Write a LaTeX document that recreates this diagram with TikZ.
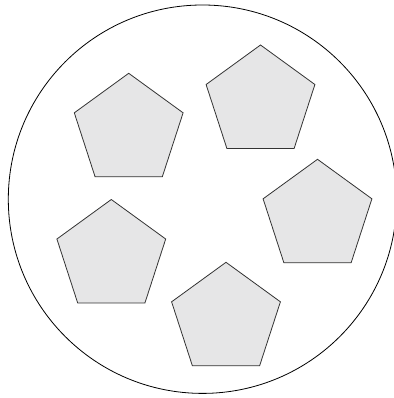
\documentclass[tikz,border=0pt]{standalone}
\usepackage{xcolor}
\usepackage{tikz}
\usetikzlibrary{shapes.geometric}
\definecolor{patchgray}{HTML}{E6E6E7}
\definecolor{edgegray}{HTML}{333333}
\tikzset{
  ball/.style={circle,draw=black,line width=0.8pt,minimum size=388.4pt,inner sep=0pt,outer sep=0pt},
  patch/.style={regular polygon,regular polygon sides=5,draw=edgegray,fill=patchgray,line width=0.8pt,minimum size=114.4pt,inner sep=0pt,outer sep=0pt}
}

\begin{document}
\begin{tikzpicture}[x=1pt,y=1pt]
  \useasboundingbox (0,0) rectangle (393,398);
  \node[ball] (ballrim) at (202.5,198.8) {};

  \node[patch] (p1) at (128.7,267.5) {};
  \node[patch] (p2) at (260.5,295.8) {};
  \node[patch] (p3) at (317.5,181.5) {};
  \node[patch] (p4) at (111.3,141.3) {};
  \node[patch] (p5) at (226.0,78.5) {};
\end{tikzpicture}
\end{document}
